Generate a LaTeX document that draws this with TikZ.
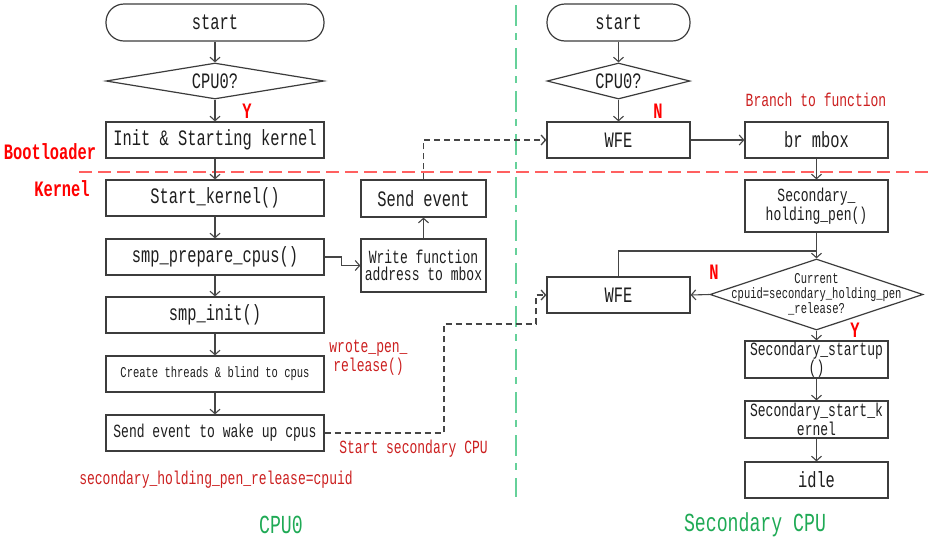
\documentclass[tikz,border=0pt]{standalone}
\usepackage{fontspec}
\setmainfont{Liberation Mono}[FakeStretch=0.7]
\usetikzlibrary{shapes.geometric,arrows.meta}
\definecolor{boxline}{HTML}{3C3C3C}
\definecolor{conn}{HTML}{454545}
\definecolor{txt}{HTML}{1E1E1E}
\definecolor{brightred}{HTML}{FF0000}
\definecolor{darkred}{HTML}{CC2020}
\definecolor{redline}{HTML}{FF6060}
\definecolor{greenline}{HTML}{66D19A}
\definecolor{greentext}{HTML}{1FAA55}
\newcommand\fL{\fontsize{22}{24}\selectfont}
\newcommand\fM{\fontsize{18.6}{19}\selectfont}
\newcommand\fS{\fontsize{15}{15}\selectfont}
\newcommand\fG{\fontsize{26}{28}\selectfont}
\tikzset{
  box/.style={draw=boxline, line width=1.2pt, fill=white, rectangle, inner sep=0pt, align=center, text=txt},
  wbox/.style={box, minimum width=218pt, minimum height=36pt},
  rbox/.style={box, minimum width=143pt, minimum height=36pt},
  term/.style={box, rounded corners=18pt, minimum height=37pt},
  decision/.style={draw=boxline, line width=1.2pt, fill=white, diamond, inner sep=0pt, text=txt},
  arr/.style={draw=conn, line width=1.1pt, -{Straight Barb[length=4.5pt,width=10pt]}},
  plain/.style={draw=conn, line width=1.1pt},
  dasharr/.style={arr, line width=1.3pt, dash pattern=on 6pt off 4pt},
  redlab/.style={text=brightred, font=\fL\bfseries, inner sep=0pt},
  notelab/.style={text=darkred, font=\fM, inner sep=0pt, align=center},
  cpulab/.style={text=greentext, font=\fG, inner sep=0pt}
}
\begin{document}
\begin{tikzpicture}[x=1pt, y=-1pt]
\useasboundingbox[fill=white] (0,0) rectangle (932,539);
% separators
\draw[redline, line width=1.5pt, dash pattern=on 13pt off 6pt] (79,172) -- (932,172);
\draw[greenline, line width=2pt, dash pattern=on 21pt off 7pt on 7pt off 8pt] (516,5) -- (516,497);
% CPU0 column
\node[term, minimum width=218pt, font=\fL] (start1) at (215,22.5) {start};
\node[decision, minimum width=218pt, minimum height=36pt, label={[font=\fL, text=txt]center:CPU0?}] (cpua) at (215,81) {};
\node[wbox, font=\fL] (init) at (215,140) {Init \& Starting kernel};
\node[wbox, font=\fL] (startk) at (215,198) {Start\_kernel()};
\node[wbox, font=\fL] (prep) at (215,257) {smp\_prepare\_cpus()};
\node[wbox, font=\fL] (smpinit) at (215,315) {smp\_init()};
\node[wbox, font=\fS] (create) at (215,374) {Create threads \& blind to cpus};
\node[wbox, font=\fM] (wake) at (215,433) {Send event to wake up cpus};
\node[box, minimum width=125pt, minimum height=37pt, font=\fL] (sendev) at (423.5,198.5) {Send event};
\node[box, minimum width=125pt, minimum height=53pt, font=\fontsize{18.6}{17.5}\selectfont] (write) at (423.5,265.5) {Write function\\address to mbox};
% Secondary column
\node[term, minimum width=143pt, font=\fL] (start2) at (618.5,22.5) {start};
\node[decision, minimum width=143pt, minimum height=36pt, label={[font=\fL, text=txt]center:CPU0?}] (cpub) at (618.5,81) {};
\node[rbox, font=\fL] (wfe1) at (618.5,140) {WFE};
\node[rbox, font=\fL] (brmbox) at (816.5,140) {br mbox};
\node[rbox, minimum height=52pt, font=\fM] (holding) at (816.5,206) {Secondary\_\\holding\_pen()};
\node[rbox, font=\fL] (wfe2) at (618.5,295) {WFE};
\node[decision, minimum width=213pt, minimum height=71pt, label={[font=\fS, text=txt, align=center]center:Current\\cpuid=secondary\_holding\_pen\\\_release?}] (cmp) at (816.5,294.5) {};
\node[rbox, minimum height=37pt, font=\fontsize{18.6}{17}\selectfont] (startup) at (816.5,359.5) {Secondary\_startup\\()};
\node[rbox, minimum height=37pt, font=\fontsize{18.6}{17}\selectfont] (startk2) at (816.5,419.5) {Secondary\_start\_k\\ernel};
\node[rbox, font=\fL] (idle) at (816.5,480) {idle};
% labels
\node[redlab] (ylab1) at (247,111) {Y};
\node[redlab] (nlab1) at (658,111) {N};
\node[redlab] (nlab2) at (714,272) {N};
\node[redlab] (ylab2) at (855,330) {Y};
\node[redlab] (boot) at (50,152) {Bootloader};
\node[redlab] (kern) at (62,189) {Kernel};
\node[notelab] (branch) at (816,100) {Branch to function};
\node[notelab] (wrote) at (368.5,358) {wrote\_pen\_\\release()};
\node[notelab] (startsec) at (413.5,449) {Start secondary CPU};
\node[notelab] (relcpu) at (216,480) {secondary\_holding\_pen\_release=cpuid};
\node[cpulab] (cpu0lab) at (281,525) {CPU0};
\node[cpulab] (seclab) at (755,525) {Secondary CPU};
% connectors CPU0
\draw[arr] (start1) -- (cpua);
\draw[arr] (cpua) -- (init);
\draw[arr] (init) -- (startk);
\draw[arr] (startk) -- (prep);
\draw[arr] (prep) -- (smpinit);
\draw[arr] (smpinit) -- (create);
\draw[arr] (create) -- (wake);
\draw[arr] (prep.east) -- ++(17,0) |- (write.west);
\draw[arr] (write) -- (sendev);
\draw[dasharr] (sendev.north) |- (wfe1.west);
\coordinate (k1) at (444,324);
\coordinate (k2) at (536,324);
\draw[dasharr] (wake.east) -| (k1) -- (k2) |- (wfe2.west);
% connectors secondary
\draw[arr] (start2) -- (cpub);
\draw[arr] (cpub) -- (wfe1);
\draw[arr] (wfe1) -- (brmbox);
\draw[arr] (brmbox) -- (holding);
\coordinate (j) at (816.5,251);
\draw[arr] (holding.south) -- (cmp.north);
\draw[plain] (wfe2.north) |- (j);
\draw[arr] (cmp.west) -- (wfe2.east);
\draw[arr] (cmp.south) -- (startup);
\draw[arr] (startup) -- (startk2);
\draw[arr] (startk2) -- (idle);
\end{tikzpicture}
\end{document}
